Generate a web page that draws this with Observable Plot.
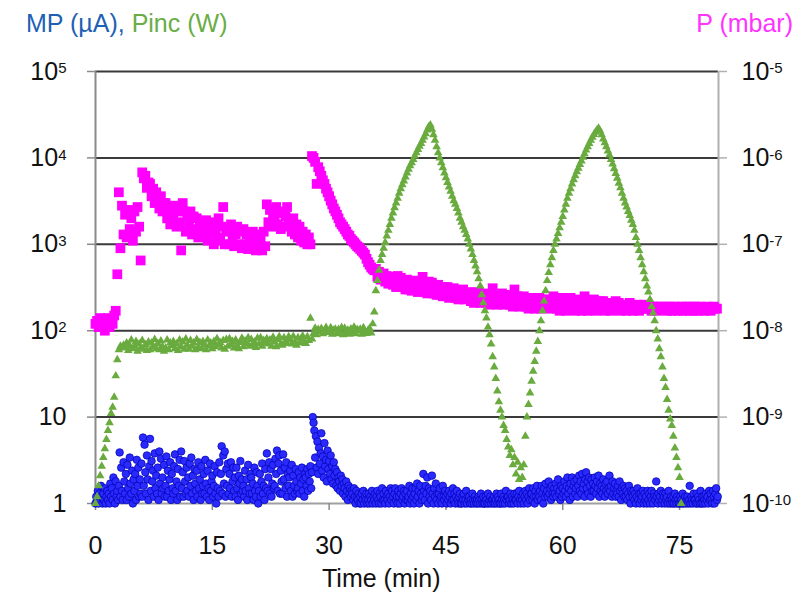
<!DOCTYPE html>
<html><head><meta charset="utf-8">
<script src="https://cdn.jsdelivr.net/npm/d3@7"></script>
<script src="https://cdn.jsdelivr.net/npm/@observablehq/plot@0.6"></script>
<style>
body{margin:0;background:#fff;font-family:"Liberation Sans",Arial,sans-serif;}
#wrap{position:relative;width:807px;height:596px;overflow:hidden;}
#wrap svg{position:absolute;left:0;top:0;}
.lbl{position:absolute;font-size:25px;white-space:nowrap;line-height:1;z-index:2;}
</style></head><body>
<div id="wrap">
  <div class="lbl" style="left:26px;top:11px"><span style="color:#1f5fb4">MP (µA),</span> <span style="color:#6aad44">Pinc (W)</span></div>
  <div class="lbl" style="right:14px;top:11px;color:#ff33ff">P (mbar)</div>
  <div class="lbl" style="left:322px;top:566px;color:#111">Time (min)</div>
</div>
<script>
// ---- data (time step in minutes between samples) ----
const xTicks = [0, 15, 30, 45, 60, 75];
const yTicks = [1, 10, 100, 1000, 10000, 100000];
const leftTickLabels = ["1", "10", "10^2", "10^3", "10^4", "10^5"];
const rightTickLabels = ["10^-10", "10^-9", "10^-8", "10^-7", "10^-6", "10^-5"];
const gridValues = [10, 100, 1000, 10000, 100000];

// MP (µA), sampled every 0.1 min
const mpStep = 0.1;
const mp = [
1.0,1.2,1.1,1.4,1.0,1.3,1.1,1.6,1.2,1.0,
1.3,1.1,1.5,1.0,1.2,1.4,1.1,1.3,1.0,1.7,
1.2,1.5,1.1,2.0,1.3,1.0,1.8,1.2,1.4,1.1,
1.6,3.9,1.2,2.6,1.4,1.1,3.0,1.8,1.3,2.2,
1.1,2.8,1.5,1.2,3.4,1.7,1.3,2.4,1.0,1.9,
1.4,2.2,1.1,3.2,1.6,2.6,1.2,1.9,1.3,2.9,
1.2,5.8,1.6,4.8,2.3,1.3,3.6,1.9,1.1,2.7,
5.6,1.4,3.1,1.8,2.4,1.2,3.8,1.5,2.1,1.3,
2.6,1.1,4.0,1.7,3.3,1.3,2.0,1.5,2.8,1.2,
1.6,3.5,1.2,2.4,1.4,1.9,3.0,1.1,2.2,1.5,
1.3,2.7,3.7,1.4,1.8,1.1,2.5,1.6,3.2,1.2,
4.0,1.5,2.3,1.2,3.1,1.8,1.3,2.6,1.4,2.0,
1.2,2.9,1.6,3.4,1.3,2.1,1.1,2.5,1.7,1.4,
2.4,1.2,3.0,1.5,1.9,1.1,2.7,1.3,1.6,2.2,
1.3,3.2,1.7,1.2,2.4,1.5,1.1,2.9,1.4,1.8,
2.1,1.2,1.6,2.7,1.3,1.0,2.3,1.5,1.2,3.0,
1.4,2.2,4.6,1.3,3.6,1.7,4.0,1.2,2.5,1.6,
2.9,1.3,2.2,1.5,3.0,1.2,1.8,2.6,1.4,2.0,
1.2,2.6,1.5,1.1,2.1,1.7,3.1,1.3,1.9,1.4,
1.6,1.2,2.4,1.4,1.9,1.1,2.8,1.5,1.3,2.2,
2.0,1.3,1.7,1.1,2.6,1.4,1.2,2.3,1.6,1.0,
1.4,2.2,1.2,1.8,2.9,1.3,1.6,1.1,2.5,1.5,
3.8,1.4,2.0,3.0,1.3,2.5,1.2,1.7,2.8,1.5,
1.6,3.3,2.2,4.1,1.4,2.9,3.6,1.3,2.4,1.8,
1.3,3.7,1.9,2.6,1.5,3.0,1.2,2.2,1.6,2.0,
2.4,1.4,2.8,1.2,2.1,1.6,1.3,2.5,1.8,1.4,
1.5,2.3,1.3,2.0,1.7,2.6,1.4,1.9,1.2,2.2,
2.0,1.6,2.5,1.4,2.2,1.8,2.7,1.5,2.3,10.0,
8.6,7.0,3.4,6.0,2.6,5.2,2.2,4.4,2.9,3.8,
6.5,2.4,3.5,2.0,5.0,2.7,3.2,1.8,4.1,2.5,
3.1,2.2,3.6,1.9,2.7,1.7,3.0,2.1,2.5,1.6,
2.3,1.5,2.0,1.8,1.4,2.1,1.6,1.9,1.3,1.7,
1.5,1.2,1.8,1.4,1.1,1.6,1.3,1.5,1.2,1.4,
1.3,1.1,1.5,1.2,1.0,1.4,1.2,1.1,1.3,1.0,
1.2,1.0,1.3,1.1,1.4,1.0,1.2,1.1,1.3,1.0,
1.1,1.3,1.0,1.2,1.1,1.4,1.0,1.2,1.1,1.3,
1.0,1.2,1.4,1.1,1.0,1.3,1.2,1.0,1.5,1.1,
1.3,1.1,1.0,1.4,1.2,1.1,1.3,1.0,1.2,1.5,
1.1,1.4,1.2,1.0,1.3,1.5,1.1,1.2,1.0,1.4,
1.2,1.0,1.3,1.5,1.1,1.2,1.4,1.0,1.3,1.1,
1.4,1.1,1.2,1.6,1.0,1.3,1.1,1.5,1.2,1.0,
1.3,1.5,1.1,1.7,1.2,1.4,1.0,1.6,1.3,1.1,
1.2,2.2,1.4,1.1,1.6,1.3,2.0,1.0,1.5,1.2,
1.4,1.1,2.1,1.3,1.0,1.5,1.2,1.7,1.1,1.3,
1.0,1.3,1.5,1.1,1.2,1.0,1.6,1.2,1.1,1.4,
1.2,1.0,1.3,1.1,1.4,1.2,1.0,1.3,1.1,1.5,
1.1,1.3,1.0,1.2,1.4,1.1,1.0,1.2,1.3,1.0,
1.0,1.2,1.1,1.3,1.0,1.1,1.4,1.0,1.2,1.1,
1.2,1.0,1.1,1.0,1.3,1.1,1.0,1.2,1.1,1.0,
1.1,1.0,1.2,1.1,1.0,1.3,1.1,1.0,1.2,1.0,
1.0,1.2,1.1,1.0,1.3,1.0,1.1,1.2,1.0,1.1,
1.1,1.0,1.2,1.0,1.1,1.3,1.0,1.2,1.1,1.0,
1.0,1.3,1.1,1.0,1.2,1.1,1.0,1.4,1.1,1.2,
1.2,1.0,1.1,1.3,1.0,1.2,1.1,1.0,1.3,1.1,
1.1,1.3,1.0,1.2,1.4,1.1,1.0,1.2,1.1,1.3,
1.0,1.2,1.4,1.1,1.3,1.0,1.2,1.5,1.1,1.3,
1.3,1.1,1.5,1.2,1.0,1.4,1.2,1.6,1.1,1.3,
1.2,1.4,1.1,1.6,1.3,1.0,1.5,1.2,1.7,1.3,
1.4,1.2,1.8,1.3,1.5,1.1,1.6,1.3,1.2,1.5,
1.3,1.7,1.2,1.5,1.9,1.3,1.4,1.1,1.6,1.2,
1.5,1.3,1.8,1.4,1.2,1.6,2.0,1.3,1.5,1.1,
1.7,1.4,2.0,1.2,1.6,1.8,1.3,1.5,1.9,1.2,
1.6,2.1,1.4,1.8,1.3,2.2,1.5,1.7,1.2,1.9,
2.3,1.5,1.8,1.3,2.0,1.6,1.2,1.9,1.4,1.7,
1.4,2.0,1.6,1.3,1.8,1.5,2.1,1.2,1.7,1.4,
1.6,1.3,1.9,1.5,1.2,1.7,1.4,1.8,1.3,1.5,
2.1,1.4,1.6,1.2,1.8,1.3,1.5,1.7,1.2,1.4,
1.3,1.6,1.2,1.8,1.4,1.1,1.5,1.3,1.6,1.2,
1.5,1.2,1.4,1.1,1.3,1.6,1.2,1.0,1.4,1.3,
1.2,1.4,1.1,1.3,1.0,1.2,1.5,1.1,1.3,1.0,
1.3,1.1,1.2,1.4,1.0,1.3,1.1,1.2,1.0,1.4,
1.1,1.3,1.0,1.2,1.4,1.1,1.0,1.3,1.2,1.1,
1.8,1.2,1.0,1.3,1.1,1.2,1.4,1.0,1.1,1.3,
1.2,1.0,1.3,1.1,1.2,1.0,1.4,1.1,1.0,1.2,
1.1,1.0,1.2,1.0,1.3,1.1,1.0,1.2,1.1,1.0,
1.0,1.2,1.1,1.0,1.3,1.0,1.1,1.2,1.0,1.1,
1.2,1.0,1.1,1.6,1.0,1.2,1.1,1.0,1.3,1.1,
1.1,1.0,1.3,1.0,1.2,1.1,1.0,1.4,1.0,1.2,
1.0,1.2,1.1,1.0,1.3,1.1,1.2,1.0,1.4,1.1,
1.3,1.1,1.0,1.4,1.2,1.0,1.3,1.5,1.1,1.2
];

// Pinc (W), sampled every 0.2 min
const pincStep = 0.2;
const pinc = [
1.0,1.2,1.6,2.1,2.7,
3.4,4.3,5.5,7.0,8.6,
11,13,17,30,46,
60,66,63,68,64,
72,59,67,78,62,
66,75,58,70,63,
77,61,69,59,74,
60,72,65,79,62,
71,60,76,65,58,
63,78,60,72,67,
75,62,70,59,78,
65,74,61,80,68,
61,77,66,72,60,
79,64,73,62,75,
68,60,78,66,72,
62,75,65,81,69,
73,63,77,61,79,
66,81,69,75,63,
78,67,62,73,82,
65,76,70,83,66,
79,68,74,64,82,
70,83,66,77,72,
81,70,78,66,84,
74,65,79,85,70,
68,83,75,71,85,
79,70,86,74,68,
83,72,80,87,74,
71,85,77,139,80,
93,107,90,103,97,
106,92,100,109,95,
98,108,91,101,104,
92,103,96,109,90,
107,94,101,91,105,
96,110,92,103,99,
104,91,108,97,93,
101,106,94,120,165,
290,380,500,650,760,
900,1050,1250,1450,1700,
2000,2300,2650,3000,3400,
3900,4400,4900,5400,6000,
6700,7400,8100,8800,9600,
10500,11500,12500,13600,14700,
16000,17500,19000,21000,23000,
24000,21500,18500,16000,13500,
11500,10000,8800,7700,6700,
5900,5200,4600,4100,3600,
3200,2900,2600,2300,2000,
1800,1600,1450,1300,1150,
1000,880,760,650,560,
480,400,330,260,210,
170,140,110,90,70,
50,38,28,20,15,
12,10,8,7,5.5,
4.5,3.6,4.2,2.8,3.4,
2.2,3.0,1.9,2.6,2.0,
2.8,6,10,14,19,
26,34,44,58,75,
100,130,170,220,290,
380,470,580,700,850,
1000,1150,1330,1550,1800,
2100,2500,2900,3400,3900,
4400,5000,5600,6200,6900,
7600,8400,9200,10200,11200,
12300,13500,14700,16000,17300,
18600,19800,21000,22000,20500,
18500,16500,15000,13500,12000,
10800,9600,8500,7500,6600,
5800,5100,4500,3900,3400,
3000,2700,2400,2150,1900,
1700,1450,1200,1000,850,
700,580,480,400,330,
280,230,190,160,130,
100,80,62,50,38,
28,22,16,12,9.5,
8,6,4.4,3.4,2.6,
2.0,1.0
];

// P in units of 1e-8 mbar, sampled every 0.2 min
const pStep = 0.2;
const pressureE8 = [
1.2,1.3,1.1,1.4,1.2,
1.3,1.0,1.2,1.4,1.1,
1.3,1.2,1.5,1.7,4.5,
40,9,28,13,22,
12,25,15,20,11,
24,14,27,16,6.5,
68,58,62,45,52,
50,36,44,30,40,
33,26,36,24,30,
30,20,27,17,24,
19,28,16,24,18,
8.5,30,24,14,21,
17,24,13,21,15,
20,12,18,14,16,
13,19,11,16,14,
18,10,15,12,20,
11,16,27,10,14,
15,10,17,12,9.5,
13,16,10,14,9,
15,10,13,8.8,12,
9.5,14,11,8.5,13,
10,12,8.5,14,9.5,
29,18,25,16,22,
20,27,17,24,15,
23,16,21,27,17,
19,14,20,13,17,
12,16,11,14,10.5,
13,10,12,10,105,
100,90,50,78,70,
62,55,50,44,40,
36,32,29,26,24,
22,20,18,17,16,
15,14,13,12.5,11.5,
11,10.5,10,9.5,9.2,
8.8,8.4,8,7.6,6.8,
6.2,5.8,5.4,5.2,5.0,
5.2,4.2,4.8,3.9,4.5,
4.6,3.7,4.3,3.5,4.0,
4.2,3.4,3.9,3.2,4.3,
3.5,4.1,3.2,3.8,3.0,
3.9,3.0,3.6,2.9,3.4,
3.3,3.8,2.8,3.5,3.0,
4.2,2.9,3.4,2.7,3.7,
3.0,3.6,2.7,3.3,2.6,
3.4,2.6,3.1,2.5,3.2,
2.7,3.2,2.4,3.0,2.6,
3.1,2.4,2.8,2.3,2.9,
2.5,3.0,2.3,2.7,2.4,
2.8,2.2,2.6,2.1,2.7,
2.4,2.8,2.1,2.5,2.2,
2.7,2.1,2.5,2.0,2.6,
3.1,2.2,2.5,2.0,2.4,
2.2,2.7,2.0,2.5,2.1,
2.6,2.0,2.4,1.9,3.0,
2.1,2.5,1.9,2.4,2.0,
2.5,1.9,2.3,1.8,2.4,
2.0,2.4,1.8,2.2,1.9,
2.4,1.8,2.3,1.9,2.1,
1.9,2.3,1.8,2.2,2.5,
2.2,1.8,2.1,1.7,2.4,
2.0,2.3,1.7,2.1,1.8,
2.4,1.8,2.2,1.7,2.1,
1.8,2.3,1.7,2.1,2.5,
2.0,1.7,2.2,1.8,2.1,
2.3,1.7,2.0,1.8,2.2,
1.8,2.2,1.7,2.0,1.9,
2.1,1.7,2.0,1.8,2.2,
1.8,2.1,1.7,1.9,1.8,
2.0,1.7,1.9,2.1,1.8,
1.7,1.9,1.8,2.0,1.7,
1.9,1.8,2.0,1.8,1.9,
1.8,1.9,1.7,1.9,1.8,
1.9,1.7,1.8,1.9,1.8,
1.8,1.9,1.7,1.8,1.9,
1.7,1.8,1.9,1.8,1.7,
1.8,1.9,1.7,1.8,1.9,
1.8,1.7,1.9,1.8,1.7,
1.9,1.8,1.7,1.9,1.8,
1.8,1.7,1.8,1.9,1.8,
1.7,1.8,1.9,1.8,1.8
];

// ---- tables ----
const mpData = mp.map((v, i) => ({t: i * mpStep, v}));
const pincData = pinc.map((v, i) => ({t: i * pincStep, v}));
// right axis: 1e-10 mbar aligns with 1 on the left axis, so 1e-8 mbar -> 100
const pData = pressureE8.map((p, i) => ({t: i * pStep, v: p * 1e-8 / 1e-10}));

const font = "'Liberation Sans', Arial, sans-serif";
const chart = Plot.plot({
  width: 807, height: 596,
  marginTop: 71, marginBottom: 93, marginLeft: 95, marginRight: 89,
  style: {fontFamily: font, fontSize: "25px", color: "#111", background: "transparent", overflow: "visible"},
  x: {domain: [0, 80], axis: null},
  y: {type: "log", domain: [1, 100000], axis: null},
  marks: [
    Plot.ruleY(gridValues, {stroke: "#3a3a3a", strokeWidth: 2}),
    Plot.ruleY([1], {stroke: "#a0a0a0", strokeWidth: 2}),
    Plot.ruleX([0], {stroke: "#8a8a8a", strokeWidth: 2}),
    Plot.ruleX([80], {stroke: "#b0b0b0", strokeWidth: 2}),
    Plot.axisX({ticks: xTicks, tickSize: 7, tickPadding: 26, label: null, stroke: "#8a8a8a", strokeWidth: 1.5, tickFormat: d => String(d)}),
    Plot.axisY({anchor: "left", ticks: yTicks, tickSize: 8, tickPadding: 21, label: null, stroke: "#8a8a8a", strokeWidth: 1.5,
      tickFormat: v => leftTickLabels[yTicks.indexOf(v)]}),
    Plot.axisY({anchor: "right", ticks: yTicks, tickSize: 8, tickPadding: 15, label: null, stroke: "#b0b0b0", strokeWidth: 1.5,
      tickFormat: v => rightTickLabels[yTicks.indexOf(v)]}),
    Plot.dot(mpData, {x: "t", y: "v", symbol: "circle", r: 3.8, fill: "#2a2aff", stroke: "#0000b0", strokeWidth: 0.7}),
    Plot.dot(pData, {x: "t", y: "v", symbol: "square", r: 5.5, fill: "#ff00ff", stroke: "none"}),
    Plot.dot(pincData, {x: "t", y: "v", symbol: "triangle", r: 3.2, fill: "#6aab3f", stroke: "none"})
  ]
});

// superscript exponents in tick labels
d3.select(chart).selectAll("text").each(function() {
  const s = this.textContent;
  const k = s.indexOf("^");
  if (k < 0) return;
  const t = d3.select(this);
  t.text(null);
  t.append("tspan").text(s.slice(0, k));
  t.append("tspan").attr("dy", "-0.42em").attr("font-size", "15px").text(s.slice(k + 1));
});

document.getElementById("wrap").appendChild(chart);
</script>
</body></html>
